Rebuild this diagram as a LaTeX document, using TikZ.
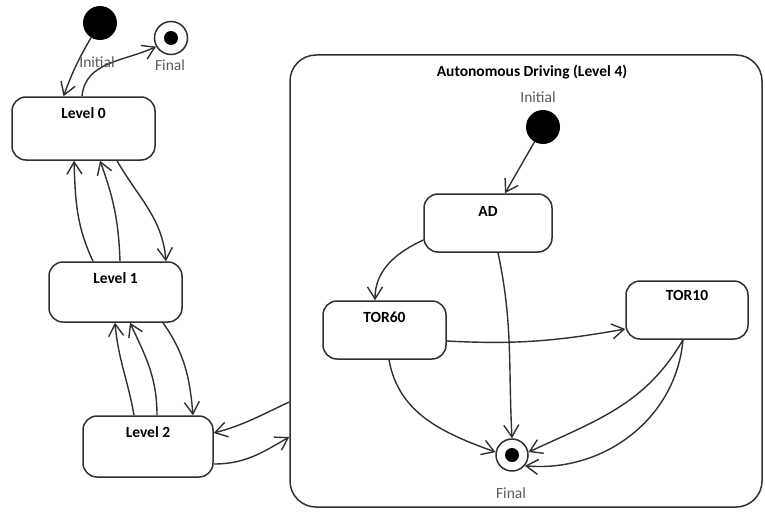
\documentclass[tikz,border=0pt]{standalone}
\usepackage{fontspec}
\setmainfont{Carlito}
\usetikzlibrary{arrows.meta}
\definecolor{linec}{HTML}{303030}
\definecolor{greyc}{HTML}{5A5A5A}
\begin{document}
\begin{tikzpicture}[x=1pt,y=-1pt,
  state/.style={draw=linec, line width=1.5pt, rounded corners=14pt, inner sep=0pt, fill=white},
  lbl/.style={font=\bfseries\fontsize{15.5}{18}\selectfont, text=black, inner sep=0pt},
  glbl/.style={font=\fontsize{15.5}{18}\selectfont, text=greyc, inner sep=0pt},
  initst/.style={circle, fill=black, minimum size=34pt, inner sep=0pt},
  finst/.style={circle, draw=linec, line width=1.5pt, fill=white, minimum size=33pt, inner sep=0pt},
  tr/.style={draw=linec, line width=1.4pt, -{Straight Barb[length=12pt,width=15pt,line width=1.4pt]}},
]
\useasboundingbox (0,0) rectangle (765,511);

% composite state
\node[state, rounded corners=26pt, minimum width=472pt, minimum height=452pt] (comp) at (526,281) {};
\node[lbl] (compt) at (532,72) {Autonomous Driving (Level 4)};

% left states
\node[initst] (i0) at (100,23) {};
\node[finst] (f0) at (171,38) {};
\fill[black] (f0.center) circle (7pt);
\node[state, minimum width=143pt, minimum height=63pt] (l0) at (83.5,128.5) {};
\node[lbl] (l0t) at (83.5,113) {Level 0};
\node[state, minimum width=133pt, minimum height=60pt] (l1) at (115.5,292) {};
\node[lbl] (l1t) at (115.5,278) {Level 1};
\node[state, minimum width=130pt, minimum height=61pt] (l2) at (148,446.5) {};
\node[lbl] (l2t) at (148,432) {Level 2};

% right states
\node[initst] (ri) at (543,127) {};
\node[glbl] (rit) at (538,97) {Initial};
\node[state, minimum width=128pt, minimum height=58pt] (ad) at (488,223) {};
\node[lbl] (adt) at (488,211) {AD};
\node[state, minimum width=123pt, minimum height=58pt] (t60) at (384.5,330) {};
\node[lbl] (t60t) at (384.5,317) {TOR60};
\node[state, minimum width=122pt, minimum height=58pt] (t10) at (687,310) {};
\node[lbl] (t10t) at (687,295) {TOR10};
\node[finst, minimum size=32pt] (rf) at (512,455) {};
\fill[black] (rf.center) circle (7pt);
\node[glbl] (rft) at (511,493) {Final};

% left transitions
\draw[tr] (i0) to[bend right=5] ([xshift=-20pt]l0.north);
\draw[tr] ([xshift=-1.5pt]l0.north) to[out=85,in=205] (f0.210);
\node[glbl] (i0t) at (97,62) {Initial};
\node[glbl] (f0t) at (170,65) {Final};

\draw[tr] ([xshift=-22.5pt]l1.north) to[out=115,in=-88] ([xshift=-9.5pt]l0.south);
\draw[tr] ([xshift=4.5pt]l1.north) to[out=92,in=-70] ([xshift=16.5pt]l0.south);
\draw[tr] ([xshift=33.5pt]l0.south) to[out=-60,in=95] ([xshift=50.5pt]l1.north);

\draw[tr] ([xshift=-14pt]l2.north) to[out=100,in=-85] ([xshift=-0.5pt]l1.south);
\draw[tr] ([xshift=9pt]l2.north) to[out=90,in=-65] ([xshift=14.5pt]l1.south);
\draw[tr] ([xshift=47.5pt]l1.south) to[out=-55,in=95] ([xshift=45pt]l2.north);

\draw[tr] ([yshift=-121pt]comp.west) to[out=205,in=15] ([yshift=13.5pt]l2.east);
\draw[tr] ([yshift=-17.5pt]l2.east) to[out=0,in=210] ([yshift=-156pt]comp.west);

% right transitions
\draw[tr] (ri) -- ([xshift=17pt]ad.north);
\draw[tr] ([yshift=-17pt]ad.west) to[out=205,in=90] ([xshift=-9.5pt]t60.north);
\draw[tr] ([xshift=10pt]ad.south) to[out=-78,in=93] (rf.north);
\draw[tr] ([yshift=-11pt]t60.east) to[out=-3,in=190] ([yshift=-19pt]t10.west);
\draw[tr] ([xshift=4.5pt]t60.south) to[out=-80,in=160] (rf.170);
\draw[tr] ([xshift=-4pt]t10.south) to[out=-120,in=25] (rf.10);
\draw[tr] ([xshift=-4pt]t10.south) to[out=-95,in=-5] (rf.-40);
\end{tikzpicture}
\end{document}
